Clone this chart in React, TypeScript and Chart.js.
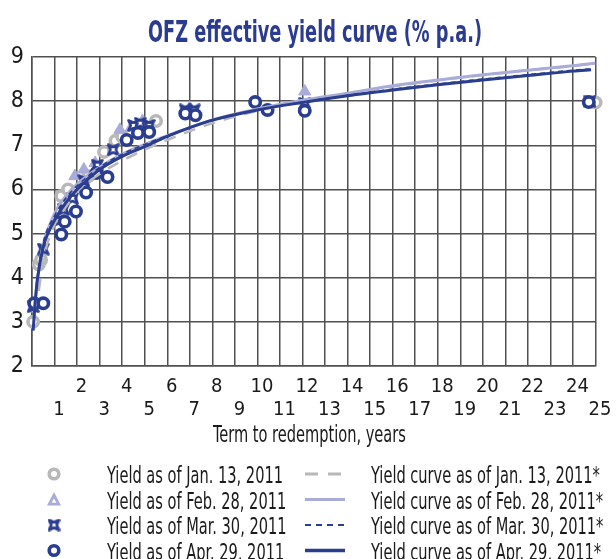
import React, { useEffect, useRef } from 'react';
import { Chart, registerables } from 'chart.js';

Chart.register(...registerables);

// ---------- data ----------
const titleText = 'OFZ effective yield curve (% p.a.)';
const xAxisTitle = 'Term to redemption, years';
const xTickLabels = ['', '1', '2', '3', '4', '5', '6', '7', '8', '9', '10', '11', '12', '13', '14', '15', '16', '17', '18', '19', '20', '21', '22', '23', '24', '25'];
const yMin = 2;
const yMax = 9;

const pointLabels = ['Yield as of Jan. 13, 2011', 'Yield as of Feb. 28, 2011', 'Yield as of Mar. 30, 2011', 'Yield as of Apr. 29, 2011'];
const curveLabels = ['Yield curve as of Jan. 13, 2011*', 'Yield curve as of Feb. 28, 2011*', 'Yield curve as of Mar. 30, 2011*', 'Yield curve as of Apr. 29, 2011*'];

const yieldJan = [
  { x: 0.05, y: 3.0 }, { x: 0.3, y: 4.3 }, { x: 0.4, y: 4.4 }, { x: 1.3, y: 5.85 }, { x: 1.6, y: 6.0 },
  { x: 2.5, y: 6.3 }, { x: 3.2, y: 6.85 }, { x: 3.7, y: 7.1 }, { x: 4.0, y: 7.2 }, { x: 4.9, y: 7.45 },
  { x: 5.5, y: 7.55 }, { x: 25.0, y: 7.97 },
];
const yieldFeb = [
  { x: 0.05, y: 3.3 }, { x: 1.9, y: 6.3 }, { x: 2.3, y: 6.45 }, { x: 2.8, y: 6.6 }, { x: 3.9, y: 7.35 },
  { x: 4.4, y: 7.4 }, { x: 4.9, y: 7.55 }, { x: 7.0, y: 7.85 }, { x: 12.1, y: 8.22 },
];
const yieldMar = [
  { x: 0.05, y: 3.35 }, { x: 0.5, y: 4.65 }, { x: 1.2, y: 5.3 }, { x: 1.4, y: 5.55 }, { x: 1.8, y: 5.8 },
  { x: 2.3, y: 6.2 }, { x: 2.9, y: 6.55 }, { x: 3.6, y: 6.9 }, { x: 4.5, y: 7.45 }, { x: 4.8, y: 7.5 },
  { x: 5.2, y: 7.45 }, { x: 6.8, y: 7.8 }, { x: 7.2, y: 7.8 }, { x: 12.1, y: 7.95 }, { x: 24.75, y: 8.0 },
];
const yieldApr = [
  { x: 0.1, y: 3.42 }, { x: 0.5, y: 3.42 }, { x: 1.3, y: 4.98 }, { x: 1.45, y: 5.27 }, { x: 1.95, y: 5.5 },
  { x: 2.4, y: 5.93 }, { x: 2.85, y: 6.37 }, { x: 3.35, y: 6.28 }, { x: 4.2, y: 7.12 }, { x: 4.7, y: 7.28 },
  { x: 5.2, y: 7.3 }, { x: 6.8, y: 7.72 }, { x: 7.25, y: 7.68 }, { x: 9.9, y: 7.98 }, { x: 10.45, y: 7.8 },
  { x: 12.1, y: 7.78 }, { x: 24.7, y: 7.98 },
];

const curveJan = [
  { x: 0.3, y: 3.7 }, { x: 0.5, y: 4.4 }, { x: 1, y: 5.2 }, { x: 1.5, y: 5.6 }, { x: 2, y: 5.95 },
  { x: 3, y: 6.35 }, { x: 4, y: 6.65 }, { x: 5, y: 6.9 }, { x: 6, y: 7.12 }, { x: 7, y: 7.32 },
  { x: 8, y: 7.5 }, { x: 10, y: 7.78 }, { x: 12, y: 8.0 }, { x: 14, y: 8.17 }, { x: 16, y: 8.33 },
  { x: 18, y: 8.47 }, { x: 20, y: 8.59 }, { x: 22, y: 8.7 }, { x: 24, y: 8.8 }, { x: 25, y: 8.85 },
];
const curveFeb = [
  { x: 0.1, y: 3.2 }, { x: 0.25, y: 4.0 }, { x: 0.5, y: 4.75 }, { x: 1, y: 5.45 }, { x: 1.5, y: 5.85 },
  { x: 2, y: 6.12 }, { x: 3, y: 6.5 }, { x: 4, y: 6.8 }, { x: 5, y: 7.02 }, { x: 6, y: 7.22 },
  { x: 7, y: 7.4 }, { x: 8, y: 7.57 }, { x: 10, y: 7.82 }, { x: 12, y: 8.02 }, { x: 14, y: 8.18 },
  { x: 16, y: 8.35 }, { x: 18, y: 8.48 }, { x: 20, y: 8.6 }, { x: 22, y: 8.7 }, { x: 24, y: 8.8 }, { x: 25, y: 8.86 },
];
const curveMar = [
  { x: 0.1, y: 3.2 }, { x: 0.25, y: 4.05 }, { x: 0.5, y: 4.8 }, { x: 1, y: 5.4 }, { x: 1.5, y: 5.8 },
  { x: 2, y: 6.08 }, { x: 3, y: 6.5 }, { x: 4, y: 6.8 }, { x: 5, y: 7.02 }, { x: 6, y: 7.22 },
  { x: 7, y: 7.4 }, { x: 8, y: 7.56 }, { x: 10, y: 7.8 }, { x: 12, y: 7.98 }, { x: 14, y: 8.13 },
  { x: 16, y: 8.27 }, { x: 18, y: 8.39 }, { x: 20, y: 8.5 }, { x: 22, y: 8.6 }, { x: 24, y: 8.7 }, { x: 24.8, y: 8.73 },
];
const curveApr = [
  { x: 0.05, y: 2.8 }, { x: 0.15, y: 3.5 }, { x: 0.25, y: 4.0 }, { x: 0.5, y: 4.7 }, { x: 0.75, y: 5.05 },
  { x: 1, y: 5.3 }, { x: 1.5, y: 5.7 }, { x: 2, y: 6.0 }, { x: 3, y: 6.45 }, { x: 4, y: 6.75 },
  { x: 5, y: 6.97 }, { x: 6, y: 7.2 }, { x: 7, y: 7.4 }, { x: 8, y: 7.57 }, { x: 10, y: 7.8 },
  { x: 12, y: 7.97 }, { x: 14, y: 8.12 }, { x: 16, y: 8.25 }, { x: 18, y: 8.37 }, { x: 20, y: 8.48 },
  { x: 22, y: 8.58 }, { x: 24, y: 8.68 }, { x: 24.8, y: 8.71 },
];

// ---------- styles ----------
const NARROW = '"Liberation Sans Narrow", "DejaVu Sans Condensed", "Liberation Sans", Arial, sans-serif';
const GRAY = '#b8b8b8';
const LAVENDER = '#a9acd8';
const BLUE = '#2a3d8f';
const GRID = '#505050';

function makeStar(color: string, size: number, lw: number) {
  const c = document.createElement('canvas');
  c.width = size;
  c.height = size;
  const g = c.getContext('2d')!;
  const cx = size / 2;
  const o = size / 2 - lw / 2 - 0.2;
  const i = o * 0.55;
  g.strokeStyle = color;
  g.lineWidth = lw;
  g.lineJoin = 'round';
  g.beginPath();
  g.moveTo(cx - o, cx - o);
  g.lineTo(cx, cx - i);
  g.lineTo(cx + o, cx - o);
  g.lineTo(cx + i, cx);
  g.lineTo(cx + o, cx + o);
  g.lineTo(cx, cx + i);
  g.lineTo(cx - o, cx + o);
  g.lineTo(cx - i, cx);
  g.closePath();
  g.fillStyle = '#ffffff';
  g.fill();
  g.stroke();
  return c;
}

function drawFitText(ctx: CanvasRenderingContext2D, text: string, x: number, y: number, sx: number, align: 'left' | 'center') {
  ctx.save();
  ctx.translate(x, y);
  ctx.scale(sx, 1);
  ctx.textAlign = align;
  ctx.textBaseline = 'alphabetic';
  ctx.fillText(text, 0, 0);
  ctx.restore();
}

export default function App() {
  const ref = useRef<HTMLCanvasElement | null>(null);

  useEffect(() => {
    if (!ref.current) return;
    const star = makeStar(BLUE, 13, 2.6);
    const starLegend = makeStar(BLUE, 13, 2.8);

    const decorations = {
      id: 'decorations',
      afterDraw(chart: any) {
        const ctx: CanvasRenderingContext2D = chart.ctx;
        ctx.save();
        // title
        ctx.fillStyle = '#2b3b8e';
        ctx.font = `bold 30px ${NARROW}`;
        const tw = ctx.measureText(titleText).width;
        drawFitText(ctx, titleText, 315, 42, Math.min(1, 334 / tw), 'center');

        // axis title
        ctx.fillStyle = '#1a1a1a';
        ctx.font = `23px ${NARROW}`;
        const refW = ctx.measureText(pointLabels[0]).width;
        const sx = Math.min(1, 176 / refW);
        drawFitText(ctx, xAxisTitle, 309.5, 442, sx, 'center');

        // legend
        const rowsY = [474, 499.5, 525, 550.5];
        const markerX = 54;
        for (let k = 0; k < 4; k++) {
          const y = rowsY[k];
          ctx.fillStyle = '#1a1a1a';
          drawFitText(ctx, pointLabels[k], 107, y + 9, sx, 'left');
          drawFitText(ctx, curveLabels[k], 371, y + 9, sx, 'left');
          // markers
          ctx.save();
          if (k === 0 || k === 3) {
            ctx.beginPath();
            ctx.arc(markerX, y, 4.8, 0, Math.PI * 2);
            ctx.lineWidth = 3.6;
            ctx.strokeStyle = k === 0 ? GRAY : BLUE;
            ctx.stroke();
          } else if (k === 1) {
            ctx.beginPath();
            ctx.moveTo(markerX, y - 7.5);
            ctx.lineTo(markerX + 7, y + 6);
            ctx.lineTo(markerX - 7, y + 6);
            ctx.closePath();
            ctx.fillStyle = LAVENDER;
            ctx.fill();
            ctx.beginPath();
            ctx.moveTo(markerX, y - 1);
            ctx.lineTo(markerX + 2.4, y + 3.2);
            ctx.lineTo(markerX - 2.4, y + 3.2);
            ctx.closePath();
            ctx.fillStyle = '#ffffff';
            ctx.fill();
          } else {
            ctx.drawImage(starLegend, markerX - 6.5, y - 6.5);
          }
          // line samples
          ctx.beginPath();
          ctx.moveTo(305, y);
          ctx.lineTo(345, y);
          if (k === 0) {
            ctx.setLineDash([13, 10]);
            ctx.strokeStyle = GRAY;
            ctx.lineWidth = 3;
          } else if (k === 1) {
            ctx.strokeStyle = LAVENDER;
            ctx.lineWidth = 3;
          } else if (k === 2) {
            ctx.setLineDash([6, 5]);
            ctx.strokeStyle = BLUE;
            ctx.lineWidth = 2;
          } else {
            ctx.strokeStyle = BLUE;
            ctx.lineWidth = 3.5;
          }
          ctx.stroke();
          ctx.restore();
        }
        ctx.restore();
      },
    };

    const scatterBase = { showLine: false, clip: false as any };
    const lineBase = { showLine: true, pointRadius: 0, pointHoverRadius: 0, cubicInterpolationMode: 'monotone' as const, fill: false };

    const chart = new Chart(ref.current, {
      type: 'scatter',
      data: {
        datasets: [
          { ...scatterBase, label: pointLabels[0], data: yieldJan, pointStyle: 'circle', pointRadius: 5.2, pointBorderWidth: 3.6, pointBorderColor: GRAY, pointBackgroundColor: '#ffffff', borderColor: GRAY, order: 8 },
          { ...scatterBase, label: pointLabels[1], data: yieldFeb, pointStyle: 'triangle', pointRadius: 7, pointBorderWidth: 1, pointBorderColor: LAVENDER, pointBackgroundColor: LAVENDER, borderColor: LAVENDER, order: 7 },
          { ...scatterBase, label: pointLabels[2], data: yieldMar, pointStyle: star as any, pointRadius: 6, order: 6 },
          { ...scatterBase, label: pointLabels[3], data: yieldApr, pointStyle: 'circle', pointRadius: 5.2, pointBorderWidth: 3.6, pointBorderColor: BLUE, pointBackgroundColor: '#ffffff', borderColor: BLUE, order: 5 },
          { ...lineBase, label: curveLabels[0], data: curveJan, borderColor: GRAY, borderWidth: 2.5, borderDash: [12, 9], order: 4 },
          { ...lineBase, label: curveLabels[1], data: curveFeb, borderColor: LAVENDER, borderWidth: 3, order: 3 },
          { ...lineBase, label: curveLabels[2], data: curveMar, borderColor: BLUE, borderWidth: 1.6, borderDash: [5, 4], order: 2 },
          { ...lineBase, label: curveLabels[3], data: curveApr, borderColor: BLUE, borderWidth: 3, order: 1 },
        ] as any,
      },
      options: {
        responsive: false,
        animation: false,
        events: [],
        layout: { padding: { left: 0, right: 14.3, top: 57, bottom: 109 } },
        plugins: { legend: { display: false }, tooltip: { enabled: false }, title: { display: false } },
        scales: {
          x: {
            type: 'linear',
            min: 0,
            max: 25,
            afterFit: (s: any) => { s.height = 84; },
            afterBuildTicks: (s: any) => { s.ticks = xTickLabels.map((_, i) => ({ value: i })); },
            grid: { color: GRID, lineWidth: 1.5, drawTicks: false },
            border: { color: GRID, width: 1.5 },
            ticks: {
              autoSkip: false,
              maxRotation: 0,
              padding: 9,
              labelOffset: 4.5,
              color: '#1a1a1a',
              font: { family: NARROW, size: 20, lineHeight: 1.15 },
              callback: (v: any) => {
                const lab = xTickLabels[Math.round(Number(v))] ?? '';
                if (!lab) return ['', ''];
                return Number(v) % 2 === 0 ? [lab, ''] : ['', lab];
              },
            },
          },
          y: {
            type: 'linear',
            min: yMin,
            max: yMax,
            afterFit: (s: any) => { s.width = 32; },
            grid: { color: GRID, lineWidth: 1.5, drawTicks: false },
            border: { color: GRID, width: 1.5 },
            ticks: {
              stepSize: 1,
              padding: 8,
              color: '#1a1a1a',
              font: { family: NARROW, size: 23 },
            },
          },
        },
      },
      plugins: [decorations],
    });
    return () => chart.destroy();
  }, []);

  return (
    <div style={{ position: 'fixed', left: 0, top: 0, width: 616, height: 559, background: '#ffffff' }}>
      <canvas ref={ref} width={616} height={559} style={{ display: 'block' }} />
    </div>
  );
}
